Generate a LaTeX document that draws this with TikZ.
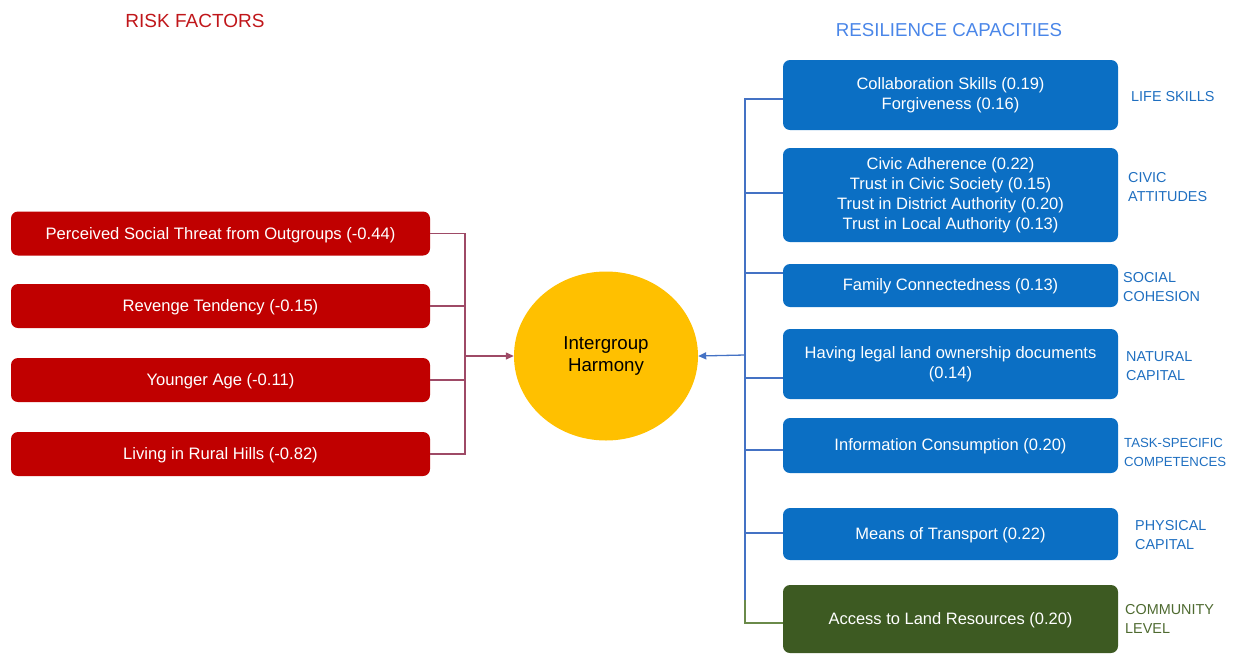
\documentclass[tikz,border=0pt]{standalone}
\usepackage{fontspec}
\setmainfont{Liberation Sans}
\usetikzlibrary{shapes.geometric,arrows.meta}
\definecolor{riskred}{HTML}{C00000}
\definecolor{capblue}{HTML}{0B6FC4}
\definecolor{commgreen}{HTML}{3D5A22}
\definecolor{harmgold}{HTML}{FFC000}
\definecolor{redline}{HTML}{9E4A66}
\definecolor{blueline}{HTML}{4472C4}
\definecolor{greenline}{HTML}{6A8A4A}
\definecolor{titlered}{HTML}{C0161A}
\definecolor{titleblue}{HTML}{4A86E8}
\definecolor{labelblue}{HTML}{1F6FC0}
\definecolor{labelgreen}{HTML}{4E6A30}
\tikzset{
  riskbox/.style={draw=none, fill=riskred, rounded corners=7pt, text=white,
    minimum width=419pt, minimum height=44pt, inner sep=0pt, text depth=1pt,
    font=\fontsize{16.6}{19}\selectfont},
  capbox/.style={draw=none, fill=capblue, rounded corners=7pt, text=white,
    minimum width=335pt, inner sep=0pt, align=center,
    font=\fontsize{16.5}{20}\selectfont},
  grplabel/.style={anchor=west, align=left, text=labelblue, inner sep=0pt,
    font=\fontsize{14.4}{19}\selectfont},
  redlink/.style={draw=redline, line width=1.3pt},
  bluelink/.style={draw=blueline, line width=1.3pt},
  tip/.style={-{Triangle[length=8pt,width=7pt]}}
}
\begin{document}
\begin{tikzpicture}[x=1pt,y=-1pt]
\useasboundingbox (0,0) rectangle (1235,654);

% titles
\node[text=titlered, font=\fontsize{19}{22}\selectfont, inner sep=0pt] (rtitle) at (195,21) {RISK FACTORS};
\node[text=titleblue, font=\fontsize{18.7}{22}\selectfont, inner sep=0pt] (ctitle) at (949,30) {RESILIENCE CAPACITIES};

% risk factors
\node[riskbox] (r1) at (220.5,233.5) {Perceived Social Threat from Outgroups (-0.44)};
\node[riskbox] (r2) at (220.5,306) {Revenge Tendency (-0.15)};
\node[riskbox] (r3) at (220.5,380) {Younger Age (-0.11)};
\node[riskbox] (r4) at (220.5,454) {Living in Rural Hills (-0.82)};

% outcome
\node[ellipse, fill=harmgold, minimum width=184pt, minimum height=169pt, inner sep=0pt,
  align=center, font=\fontsize{18.7}{22}\selectfont] (harm) at (606,356) {Intergroup\\Harmony};

% resilience capacities
\node[capbox, minimum height=70pt] (c1) at (950.5,95) {Collaboration Skills (0.19)\\Forgiveness (0.16)};
\node[capbox, minimum height=94pt] (c2) at (950.5,195) {Civic Adherence (0.22)\\Trust in Civic Society (0.15)\\Trust in District Authority (0.20)\\Trust in Local Authority (0.13)};
\node[capbox, minimum height=43pt, text depth=1pt] (c3) at (950.5,285.5) {Family Connectedness (0.13)};
\node[capbox, minimum height=70pt] (c4) at (950.5,364) {Having legal land ownership documents\\(0.14)};
\node[capbox, minimum height=55pt, text depth=1pt] (c5) at (950.5,445.5) {Information Consumption (0.20)};
\node[capbox, minimum height=52pt, text depth=1pt] (c6) at (950.5,534) {Means of Transport (0.22)};
\node[capbox, fill=commgreen, minimum height=68pt, text depth=1pt] (c7) at (950.5,619) {Access to Land Resources (0.20)};

% group labels
\node[grplabel] (l1) at (1131,97) {LIFE SKILLS};
\node[grplabel] (l2) at (1128,187) {CIVIC\\ATTITUDES};
\node[grplabel] (l3) at (1123,287) {SOCIAL\\COHESION};
\node[grplabel] (l4) at (1126,366) {NATURAL\\CAPITAL};
\node[grplabel, font=\fontsize{13.2}{19}\selectfont] (l5) at (1124,452) {TASK-SPECIFIC\\COMPETENCES};
\node[grplabel] (l6) at (1135,535) {PHYSICAL\\CAPITAL};
\node[grplabel, text=labelgreen] (l7) at (1125,619) {COMMUNITY\\LEVEL};

% left bracket
\coordinate (lsp) at (465,356);
\draw[redlink] (r1.east) -- (r1.east -| lsp) -- (r4.east -| lsp) -- (r4.east);
\draw[redlink] (r2.east) -- (r2.east -| lsp);
\draw[redlink] (r3.east) -- (r3.east -| lsp);
\draw[redlink, tip] (lsp) -- (harm.west);

% right bracket
\coordinate (s1) at (745,99);
\coordinate (s2) at (745,193);
\coordinate (s3) at (745,273);
\coordinate (sm) at (745,355);
\coordinate (s4) at (745,378);
\coordinate (s5) at (745,450);
\coordinate (s6) at (745,533);
\coordinate (sg) at (745,600);
\coordinate (s7) at (745,623);
\draw[bluelink] (s1 -| c1.west) -- (s1) -- (sg);
\draw[bluelink] (s2) -- (s2 -| c2.west);
\draw[bluelink] (s3) -- (s3 -| c3.west);
\draw[bluelink] (s4) -- (s4 -| c4.west);
\draw[bluelink] (s5) -- (s5 -| c5.west);
\draw[bluelink] (s6) -- (s6 -| c6.west);
\draw[draw=greenline, line width=1.3pt] (sg) -- (s7) -- (s7 -| c7.west);
\draw[bluelink, tip] (sm) -- (harm.east);
\end{tikzpicture}
\end{document}
